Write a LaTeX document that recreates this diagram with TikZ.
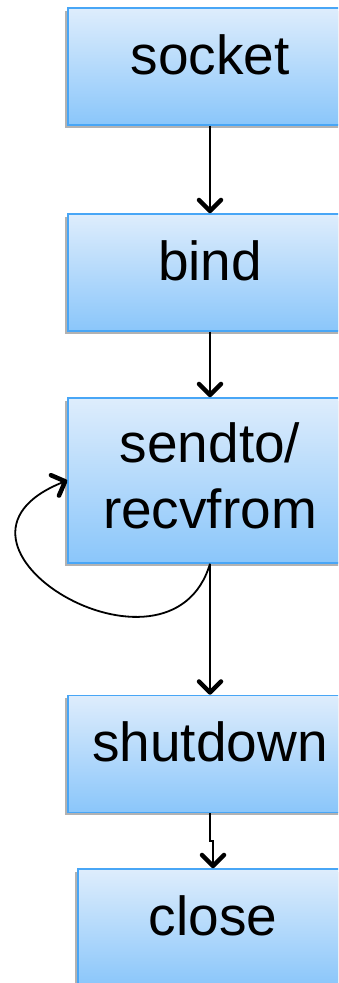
\documentclass[tikz,border=0pt]{standalone}
\usepackage{fontspec}
\setmainfont{Liberation Sans}
\usetikzlibrary{arrows.meta,shadows}
\definecolor{boxtop}{RGB}{222,237,252}
\definecolor{boxbottom}{RGB}{138,198,250}
\definecolor{boxline}{RGB}{72,166,246}
\begin{document}
\begin{tikzpicture}[x=1pt,y=1pt]
	\tikzstyle{call}=[rectangle,draw=boxline,line width=1.5pt,top color=boxtop,bottom color=boxbottom,
		minimum width=284pt,minimum height=117pt,inner sep=0pt,
		font=\fontsize{55}{66}\selectfont,text depth=24pt,
		drop shadow={shadow xshift=-3pt,shadow yshift=-3pt,opacity=0.3,fill=black}]
	\tikzstyle{edge}=[draw=black,line width=1.8pt,-{Straight Barb[length=11pt,width=22pt,line width=4.5pt,round]}]

	\path[use as bounding box,clip] (0,0) rectangle (338,983);

	% one call per box, top to bottom
	\node [call] (socket) at (210,916.5) {socket};
	\node [call] (bind) at (210,710.5) {bind};
	\node [call,minimum height=165pt,align=center,text depth=10pt] (sendto) at (210,502.5) {sendto/\\recvfrom};
	\node [call] (shutdown) at (210,229) {shutdown};
	\node [call,minimum width=270pt] (close) at (213,55.5) {close};

	\path[edge] (socket) edge (bind);
	\path[edge] (bind) edge (sendto);
	\path[edge] (sendto) edge (shutdown);
	\draw[edge] (sendto.south) .. controls (170,285) and (-90,440) .. (sendto.west);
	\draw[edge] (shutdown.south) -- ++(0,-28) -| (close.north);
\end{tikzpicture}
\end{document}
